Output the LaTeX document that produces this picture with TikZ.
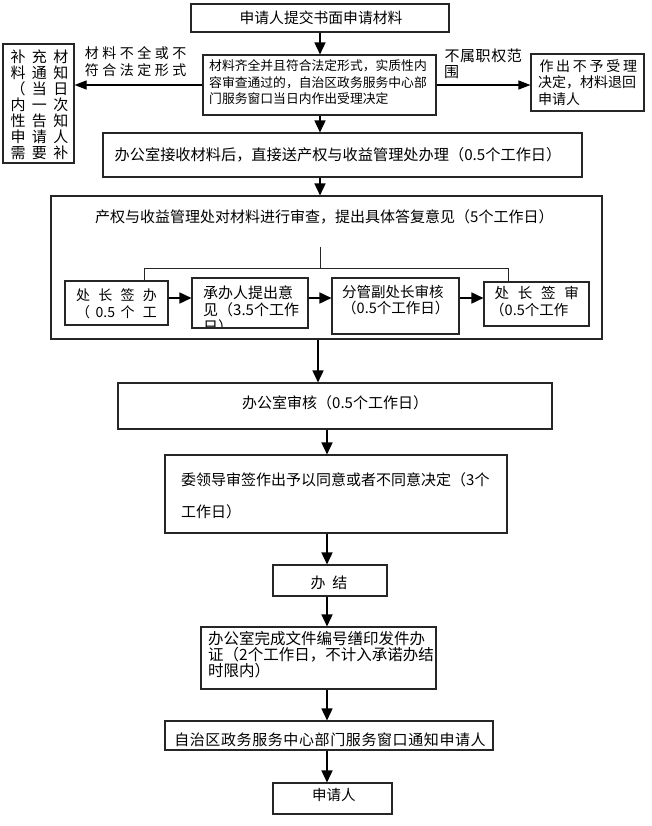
\documentclass[tikz,border=0pt]{standalone}
\usepackage{fontspec}
\setmainfont{Noto Sans CJK SC}
\usetikzlibrary{arrows.meta}
\makeatletter
\newcommand\mysp[2]{\@tfor\my@c:=#2\do{\makebox[#1]{\my@c}}}
\makeatother
\begin{document}
\begin{tikzpicture}[x=1pt,y=1pt,
  box/.style={draw=black!85, line width=1.1pt, inner sep=0pt, fill=none},
  txt/.style={inner sep=0pt, align=left, text=black},
  arr/.style={-{Triangle[length=12pt,width=11pt]}, line width=1.6pt},
  arrh/.style={-{Triangle[length=12pt,width=9pt]}, line width=1.1pt},
  conn/.style={line width=1pt, black!85}]
\useasboundingbox (0,0) rectangle (651,-826);
% boxes
\node[box, minimum width=258pt, minimum height=28pt] (b1) at (320,-18) {};
\node[box, minimum width=233pt, minimum height=60pt] (b2) at (319.5,-85) {};
\node[box, minimum width=71pt, minimum height=119pt] (bl) at (38.5,-103.5) {};
\node[box, minimum width=113pt, minimum height=57pt] (bR) at (587.5,-82.5) {};
\node[box, minimum width=479pt, minimum height=44pt] (b5) at (342.5,-155) {};
\node[box, minimum width=551pt, minimum height=143pt] (big) at (326.5,-267.5) {};
\node[box, minimum width=103pt, minimum height=44pt] (sa) at (116.5,-303) {};
\begin{scope}
\clip (192,-278) rectangle (308,-328);
\node[txt, anchor=north west, font=\fontsize{15}{17}\selectfont] (tb) at (203,-285.5) {承办人提出意\\见（3.5个工作\\日）};
\end{scope}
\node[box, minimum width=116pt, minimum height=50pt] (sb) at (250,-303) {};
\node[box, minimum width=127pt, minimum height=56pt] (sc) at (395.5,-306) {};
\node[box, minimum width=105pt, minimum height=44pt] (sd) at (536.5,-304) {};
\node[box, minimum width=434pt, minimum height=46pt] (b7) at (335,-406) {};
\node[box, minimum width=342pt, minimum height=78pt] (b8) at (336,-494) {};
\node[box, minimum width=114pt, minimum height=31pt] (b9) at (330,-580.5) {};
\node[box, minimum width=235pt, minimum height=62pt] (b10) at (318.5,-658) {};
\node[box, minimum width=328pt, minimum height=29pt] (b11) at (329,-735.5) {};
\node[box, minimum width=119pt, minimum height=31pt] (b12) at (332.5,-798.5) {};
% texts
\node[txt, font=\fontsize{14.8}{17}\selectfont] (t1) at (321,-18) {申请人提交书面申请材料};
\node[txt, anchor=west, font=\fontsize{12.8}{16.5}\selectfont] (t2) at (209,-82.5) {材料齐全并且符合法定形式，实质性内\\容审查通过的，自治区政务服务中心部\\门服务窗口当日内作出受理决定};
\node[txt, font=\fontsize{15}{16}\selectfont] (tl) at (39.5,-105) {\mysp{21.5pt}{补充材}\\\mysp{21.5pt}{料通知}\\\mysp{21.5pt}{（当日}\\\mysp{21.5pt}{内一次}\\\mysp{21.5pt}{性告知}\\\mysp{21.5pt}{申请人}\\\mysp{21.5pt}{需要补}};
\node[txt, align=center, font=\fontsize{14}{17}\selectfont] (lblL) at (135.5,-61.5) {\mysp{17.5pt}{材料不全或不}\\\mysp{17.5pt}{符合法定形式}};
\node[txt, anchor=west, font=\fontsize{15}{16}\selectfont] (lblR) at (444,-64) {\mysp{15.6pt}{不属职权范}\\围};
\node[txt, anchor=west, font=\fontsize{14}{16.5}\selectfont] (tR) at (538,-82.5) {\mysp{16.7pt}{作出不予受理}\\决定，材料退回\\申请人};
\node[txt, font=\fontsize{15.2}{17}\selectfont] (t5) at (338,-155) {办公室接收材料后，直接送产权与收益管理处办理（0.5个工作日）};
\node[txt, anchor=west, font=\fontsize{15}{17}\selectfont] (tbig) at (95,-217) {产权与收益管理处对材料进行审查，提出具体答复意见（5个工作日）};
\node[txt, font=\fontsize{14}{17}\selectfont] (ta) at (116.5,-303.5) {\mysp{22.3pt}{处长签办}\\\mysp{22.3pt}{（}\makebox[22.3pt]{0.5}\mysp{22.3pt}{个工}};
\node[txt, anchor=west, font=\fontsize{14.5}{16}\selectfont] (tc) at (342,-300) {分管副处长审核\\（0.5个工作日）};
\node[txt, anchor=west, font=\fontsize{14.5}{17}\selectfont] (td) at (490,-301.5) {\mysp{23.3pt}{处长签审}\\（0.5个工作};
\node[txt, anchor=west, font=\fontsize{15}{17}\selectfont] (t7) at (242,-403) {办公室审核（0.5个工作日）};
\node[txt, anchor=west, font=\fontsize{15}{32}\selectfont] (t8) at (181,-496) {委领导审签作出予以同意或者不同意决定（3个\\工作日）};
\node[txt, font=\fontsize{15}{17}\selectfont] (t9) at (329,-583) {\mysp{22pt}{办结}};
\node[txt, anchor=west, font=\fontsize{15.5}{16}\selectfont] (t10) at (208,-655) {办公室完成文件编号缮印发件办\\证（2个工作日，不计入承诺办结\\时限内）};
\node[txt, font=\fontsize{15}{17}\selectfont] (t11) at (330,-740) {\mysp{15.6pt}{自治区政务服务中心部门服务窗口通知申请人}};
\node[txt, anchor=west, font=\fontsize{14.5}{17}\selectfont] (t12) at (312,-795) {申请人};
% coordinates
\coordinate (c1) at (320,0);
\coordinate (c2) at (318,0);
\coordinate (c3) at (327,0);
\coordinate (yA) at (0,-85);
\coordinate (ys) at (0,-298);
\coordinate (jt) at (320,-247);
\coordinate (jl) at (144,-268);
\coordinate (jr) at (508,-268);
% connectors
\draw[arr] (b1.south -| c1) -- (b2.north -| c1);
\draw[arrh] (b2.west |- yA) -- (bl.east |- yA);
\draw[arrh] (b2.east |- yA) -- (bR.west |- yA);
\draw[arr] (b2.south -| c1) -- (b5.north -| c1);
\draw[arr] (b5.south -| c1) -- (big.north -| c1);
\draw[conn] (jt) -- (jt |- jl);
\draw[conn] (jl) -- (jr);
\draw[conn] (jl) -- (jl |- sa.north);
\draw[conn] (jr) -- (jr |- sd.north);
\draw[arr] (sa.east |- ys) -- (sb.west |- ys);
\draw[arr] (sb.east |- ys) -- (sc.west |- ys);
\draw[arr] (sc.east |- ys) -- (sd.west |- ys);
\draw[arr] (big.south -| c2) -- (b7.north -| c2);
\draw[arr] (b7.south -| c3) -- (b8.north -| c3);
\draw[arr] (b8.south -| c3) -- (b9.north -| c3);
\draw[arr] (b9.south -| c3) -- (b10.north -| c3);
\draw[arr] (b10.south -| c3) -- (b11.north -| c3);
\draw[arr] (b11.south -| c3) -- (b12.north -| c3);
\end{tikzpicture}
\end{document}
